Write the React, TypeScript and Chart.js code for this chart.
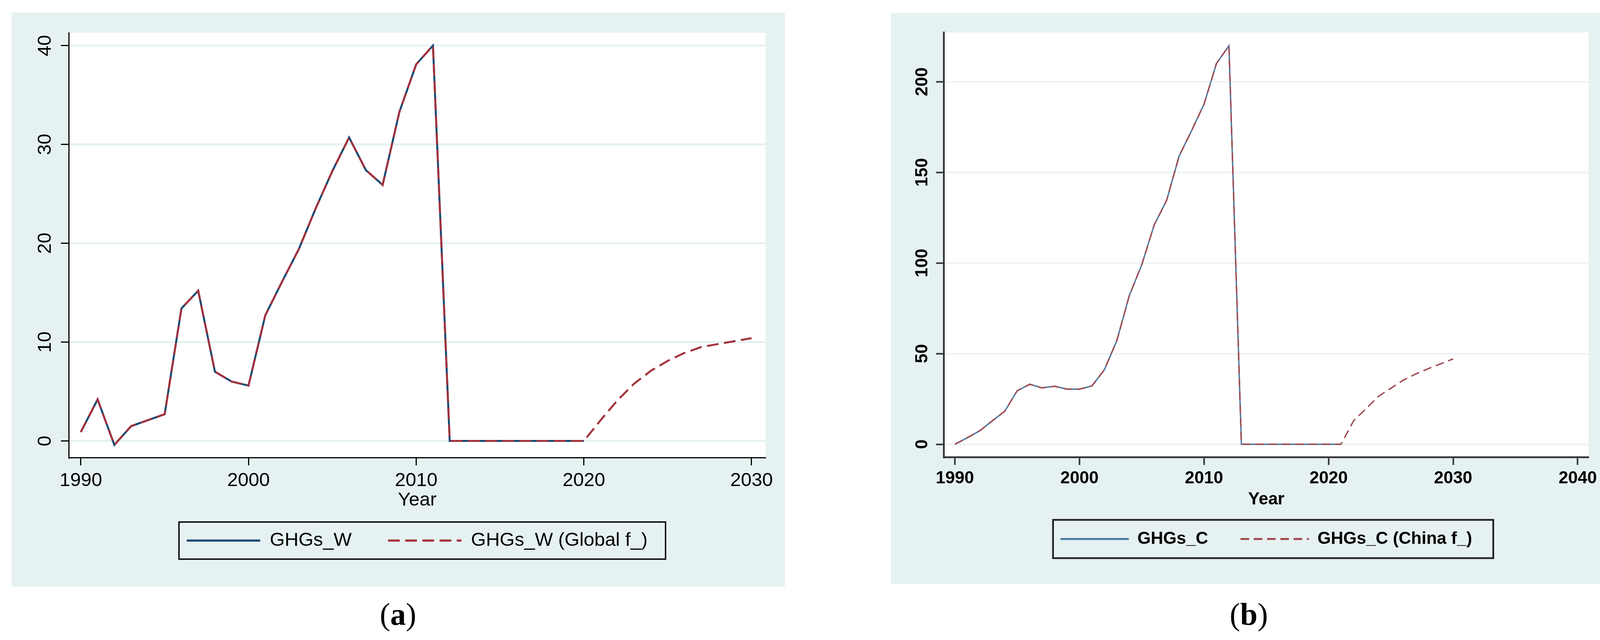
import React, { useEffect, useRef } from 'react';
import { Chart, registerables } from 'chart.js';

Chart.register(...registerables);

const START_YEAR = 1990;

// ---- Panel (a): Global ----
const ghgsW = [0.9, 4.2, -0.4, 1.5, 2.1, 2.7, 13.4, 15.2, 7.0, 6.0, 5.6, 12.7, 16.1, 19.4, 23.5, 27.3, 30.7, 27.4, 25.9, 33.3, 38.1, 40.0, 0, 0, 0, 0, 0, 0, 0, 0, 0];
const ghgsWForecastTail = [2.1, 4.1, 5.8, 7.1, 8.1, 8.9, 9.5, 9.8, 10.1, 10.4];
const ghgsWForecast = [...ghgsW, ...ghgsWForecastTail];
const xTicksA = [1990, 2000, 2010, 2020, 2030];
const yTicksA = [0, 10, 20, 30, 40];
const legendA = ['GHGs_W', 'GHGs_W (Global f_)'];

// ---- Panel (b): China ----
const ghgsC = [0, 3.6, 7.5, 12.9, 18.2, 29.5, 33.1, 31.1, 32.0, 30.4, 30.4, 32.2, 41.1, 57.2, 82.0, 99.0, 121.0, 134.6, 159.0, 173.0, 187.6, 210.1, 219.8, 0, 0, 0, 0, 0, 0, 0, 0, 0];
const ghgsCForecastTail = [12.9, 19.6, 26.4, 30.9, 35.4, 38.8, 41.7, 44.4, 47.1];
const ghgsCForecast = [...ghgsC, ...ghgsCForecastTail];
const xTicksB = [1990, 2000, 2010, 2020, 2030, 2040];
const yTicksB = [0, 50, 100, 150, 200];
const legendB = ['GHGs_C', 'GHGs_C (China f_)'];

const axisTitle = 'Year';

const toPoints = (vals: number[]) => vals.map((v, i) => ({ x: START_YEAR + i, y: v }));

const FONT = '"Liberation Sans", Arial, sans-serif';

const panelPlugin = {
  id: 'panel',
  beforeDraw(chart: any, _args: any, opts: any) {
    const { ctx, chartArea: a, width, height } = chart;
    ctx.save();
    ctx.fillStyle = opts.bg;
    ctx.fillRect(0, 0, width, height);
    ctx.fillStyle = '#ffffff';
    ctx.fillRect(a.left, a.top, a.right - a.left, a.bottom - a.top);
    ctx.restore();
  },
  afterDraw(chart: any, _args: any, opts: any) {
    const lg = chart.legend;
    if (!lg || !lg.legendHitBoxes || !lg.legendHitBoxes.length) return;
    const hb = lg.legendHitBoxes;
    const first = hb[0];
    const last = hb[hb.length - 1];
    const left = first.left - opts.padL;
    const right = last.left + last.width + opts.padR;
    const cy = first.top + first.height / 2;
    const ctx = chart.ctx;
    ctx.save();
    ctx.strokeStyle = opts.boxColor;
    ctx.lineWidth = opts.boxWidth;
    ctx.setLineDash([]);
    ctx.strokeRect(left, cy - opts.halfH, right - left, opts.halfH * 2);
    ctx.restore();
  },
};

type Spec = {
  left: number; top: number; width: number; height: number;
  solid: number[]; dashed: number[]; labels: string[];
  xTicks: number[]; yTicks: number[];
  xMin: number; xMax: number; yMin: number; yMax: number;
  fontSize: number; fontWeight: string; solidColor: string; dashColor: string; lineWidth: number; legendLineWidth: number;
  dash: number[];
  axisColor: string; axisWidth: number; tickWidth: number; gridColor: string;
  pad: { left: number; right: number; top: number; bottom: number };
  yWidth: number; xHeight: number; yTickPad: number; xTickPad: number; titlePadBottom: number;
  legendPad: number; sampleWidth: number;
  boxPadL: number; boxPadR: number; boxHalfH: number; boxColor: string; boxWidth: number;
  bg: string;
};

const specA: Spec = {
  left: 30, top: 32, width: 1979, height: 1470,
  solid: ghgsW, dashed: ghgsWForecast, labels: legendA,
  xTicks: xTicksA, yTicks: yTicksA,
  xMin: 1989.28, xMax: 2030.84, yMin: -1.68, yMax: 41.29,
  fontSize: 49, fontWeight: 'normal', solidColor: '#134a72', dashColor: '#a3323c', lineWidth: 5, legendLineWidth: 5.5,
  dash: [30, 14],
  axisColor: '#000000', axisWidth: 3, tickWidth: 3, gridColor: '#e6f1f1',
  pad: { left: 0, right: 49, top: 52, bottom: 84 },
  yWidth: 146, xHeight: 95, yTickPad: 12, xTickPad: 9.6, titlePadBottom: -43.4,
  legendPad: 93, sampleWidth: 188,
  boxPadL: 20, boxPadR: 46, boxHalfH: 47.5, boxColor: '#000000', boxWidth: 3.5,
  bg: '#e6f1f1',
};

const specB: Spec = {
  left: 2281, top: 33, width: 1829, height: 1462,
  solid: ghgsC, dashed: ghgsCForecast, labels: legendB,
  xTicks: xTicksB, yTicks: yTicksB,
  xMin: 1989.12, xMax: 2040.88, yMin: -7.1, yMax: 227.2,
  fontSize: 44, fontWeight: 'bold', solidColor: '#4a7aa0', dashColor: '#a0494f', lineWidth: 3.5, legendLineWidth: 5,
  dash: [22, 12],
  axisColor: '#333333', axisWidth: 4.5, tickWidth: 4, gridColor: '#eef5f5',
  pad: { left: 0, right: 43, top: 50, bottom: 83.5 },
  yWidth: 135.5, xHeight: 104.5, yTickPad: -2, xTickPad: 8.9, titlePadBottom: -30.5,
  legendPad: 83, sampleWidth: 175,
  boxPadL: 19, boxPadR: 54, boxHalfH: 49, boxColor: '#222222', boxWidth: 4.5,
  bg: '#e6f1f1',
};

function Panel({ spec }: { spec: Spec }) {
  const ref = useRef<HTMLCanvasElement | null>(null);
  useEffect(() => {
    if (!ref.current) return;
    const s = spec;
    const font = { family: FONT, size: s.fontSize, weight: s.fontWeight as any };
    const chart = new Chart(ref.current, {
      type: 'line',
      data: {
        datasets: [
          {
            label: s.labels[0],
            data: toPoints(s.solid),
            borderColor: s.solidColor,
            backgroundColor: s.solidColor,
            borderWidth: s.lineWidth,
            pointRadius: 0,
            tension: 0,
            fill: false,
            order: 2,
            borderJoinStyle: 'miter',
          },
          {
            label: s.labels[1],
            data: toPoints(s.dashed),
            borderColor: s.dashColor,
            backgroundColor: s.dashColor,
            borderWidth: s.lineWidth,
            borderDash: s.dash,
            pointRadius: 0,
            tension: 0,
            fill: false,
            order: 1,
            borderJoinStyle: 'miter',
          },
        ],
      } as any,
      options: {
        animation: false,
        responsive: false,
        maintainAspectRatio: false,
        devicePixelRatio: 1,
        layout: { padding: s.pad },
        scales: {
          x: {
            type: 'linear',
            min: s.xMin,
            max: s.xMax,
            afterBuildTicks: (sc: any) => { sc.ticks = s.xTicks.map((v) => ({ value: v })); },
            afterFit: (sc: any) => { sc.height = s.xHeight; },
            ticks: {
              padding: s.xTickPad, color: '#000', font, autoSkip: false,
              minRotation: 0, maxRotation: 0,
              callback: (v: any) => String(v),
            },
            grid: {
              drawOnChartArea: false, drawTicks: true, tickLength: 20,
              tickColor: s.axisColor, tickWidth: s.tickWidth,
            },
            border: { display: true, color: s.axisColor, width: s.axisWidth },
            title: {
              display: true, text: axisTitle, color: '#000', font,
              padding: { top: 0, bottom: s.titlePadBottom },
            },
          },
          y: {
            type: 'linear',
            min: s.yMin,
            max: s.yMax,
            afterBuildTicks: (sc: any) => { sc.ticks = s.yTicks.map((v) => ({ value: v })); },
            afterFit: (sc: any) => { sc.width = s.yWidth; },
            ticks: {
              padding: s.yTickPad, color: '#000', font, autoSkip: false,
              minRotation: 90, maxRotation: 90, crossAlign: 'center',
              callback: (v: any) => String(v),
            },
            grid: {
              color: s.gridColor, lineWidth: 5, drawTicks: true, tickLength: 20,
              tickColor: s.axisColor, tickWidth: s.tickWidth,
            },
            border: { display: true, color: s.axisColor, width: s.axisWidth },
          },
        },
        plugins: {
          tooltip: { enabled: false },
          title: { display: false },
          legend: {
            display: true,
            position: 'bottom',
            align: 'center',
            fullSize: false,
            labels: {
              usePointStyle: true,
              pointStyle: 'line',
              pointStyleWidth: s.sampleWidth,
              padding: s.legendPad,
              color: '#000',
              font,
              sort: (a: any, b: any) => a.datasetIndex - b.datasetIndex,
              generateLabels: (ch: any) => {
                const items = (Chart.defaults.plugins.legend.labels as any).generateLabels(ch);
                items.forEach((it: any) => {
                  const ds = ch.data.datasets[it.datasetIndex];
                  it.lineWidth = s.legendLineWidth;
                  it.strokeStyle = ds.borderColor;
                  it.fillStyle = 'rgba(0,0,0,0)';
                  it.lineDash = ds.borderDash || [];
                  it.lineDashOffset = 0;
                  it.lineCap = 'butt';
                });
                return items;
              },
            },
          },
          panel: {
            bg: s.bg, padL: s.boxPadL, padR: s.boxPadR, halfH: s.boxHalfH,
            boxColor: s.boxColor, boxWidth: s.boxWidth,
          },
        } as any,
      } as any,
      plugins: [panelPlugin as any],
    });
    return () => chart.destroy();
  }, [spec]);
  return (
    <canvas
      ref={ref}
      width={spec.width}
      height={spec.height}
      style={{ position: 'absolute', left: spec.left, top: spec.top, width: spec.width, height: spec.height }}
    />
  );
}

const captionStyle: React.CSSProperties = {
  position: 'absolute',
  width: 300,
  textAlign: 'center',
  fontFamily: '"Liberation Serif", "Times New Roman", serif',
  fontSize: 80,
  lineHeight: '80px',
  color: '#000',
};

export default function App() {
  return (
    <div style={{ position: 'absolute', left: 0, top: 0, width: 4144, height: 1638, background: '#ffffff', overflow: 'hidden' }}>
      <Panel spec={specA} />
      <Panel spec={specB} />
      <div style={{ ...captionStyle, left: 1019 - 150, top: 1532 }}>(<b>a</b>)</div>
      <div style={{ ...captionStyle, left: 3197 - 150, top: 1532 }}>(<b>b</b>)</div>
    </div>
  );
}
